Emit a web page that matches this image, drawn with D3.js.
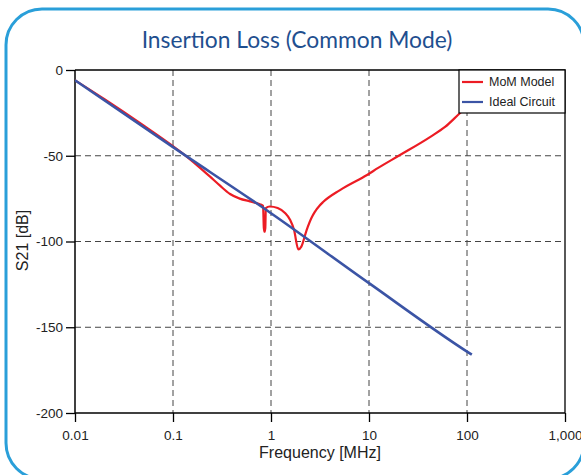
<!DOCTYPE html>
<html>
<head>
<meta charset="utf-8">
<script src="https://cdn.jsdelivr.net/npm/d3@7/dist/d3.min.js"></script>
<style>
  html, body { margin: 0; padding: 0; background: #fff; }
  svg { display: block; }
</style>
</head>
<body>
<svg id="chart" width="581" height="475"></svg>
<script>
// Insertion loss, common mode: S21 vs frequency
const freqTicks = [0.01, 0.1, 1, 10, 100, 1000];
const freqTickLabels = ["0.01", "0.1", "1", "10", "100", "1,000"];
const s21Ticks = [0, -50, -100, -150, -200];
const s21TickLabels = ["0", "-50", "-100", "-150", "-200"];

// Ideal circuit response
const idealFreq = [0.01, 0.1, 1, 10, 100, 112];
const idealS21 = [-6, -45, -83.5, -124.3, -164.2, -166];

// MoM model response
const momFreq = [0.01, 0.02, 0.05, 0.1, 0.132, 0.18, 0.239, 0.3, 0.382, 0.48, 0.61, 0.77,
  0.83, 0.845, 0.86, 0.875, 0.885, 0.97, 1.17, 1.39, 1.57, 1.72, 1.9, 2.04, 2.31, 2.6,
  2.78, 3.14, 3.4, 5.06, 9.55, 12.4, 20.7, 41.9, 59.7, 85, 112];
const momS21 = [-6, -17, -32.3, -44.4, -49.6, -56, -62.2, -67.3, -72.3, -75, -76.6, -78.3,
  -79.2, -92, -94.3, -92, -80.5, -79.6, -80.5, -83.4, -87.5, -93.3, -104.6, -103, -93.3, -86,
  -83, -79, -77, -70, -61.2, -57.1, -49.6, -39.1, -33.2, -25.1, -19];

const seriesNames = ["MoM Model", "Ideal Circuit"];
const seriesColors = ["#ec1c24", "#3b54a5"];

const svg = d3.select("#chart");

// rounded frame
svg.append("rect")
  .attr("x", 6).attr("y", 9)
  .attr("width", 578).attr("height", 470)
  .attr("rx", 36).attr("ry", 36)
  .attr("fill", "#fff")
  .attr("stroke", "#2a9fd9")
  .attr("stroke-width", 3);

svg.append("text")
  .attr("x", 297).attr("y", 48)
  .attr("text-anchor", "middle")
  .attr("font-family", "Lato, 'Open Sans', sans-serif")
  .attr("font-size", 22.8)
  .attr("fill", "#1f4f8f")
  .text("Insertion Loss (Common Mode)");

const pLeft = 75, pRight = 565, pTop = 70, pBottom = 413;

const x = d3.scaleLog().domain([0.01, 1000]).range([pLeft, pRight]);
const y = d3.scaleLinear().domain([-200, 0]).range([pBottom, pTop]);

const font = "'Liberation Sans', Arial, sans-serif";

// grid
const grid = svg.append("g").attr("stroke", "#444").attr("stroke-width", 1)
  .attr("stroke-dasharray", "6,4").attr("fill", "none");
freqTicks.slice(1, -1).forEach(f => {
  grid.append("line").attr("x1", x(f)).attr("x2", x(f)).attr("y1", pTop).attr("y2", pBottom);
});
s21Ticks.slice(1, -1).forEach(v => {
  grid.append("line").attr("x1", pLeft).attr("x2", pRight).attr("y1", y(v)).attr("y2", y(v));
});

// plot border (top and right)
svg.append("path")
  .attr("d", `M${pLeft},${pTop}H${pRight}V${pBottom}`)
  .attr("fill", "none").attr("stroke", "#000").attr("stroke-width", 1.3);

// axes
const xAxis = d3.axisBottom(x).tickValues(freqTicks)
  .tickFormat((d, i) => freqTickLabels[i]).tickSize(9).tickPadding(8);
const yAxis = d3.axisLeft(y).tickValues(s21Ticks)
  .tickFormat((d, i) => s21TickLabels[i]).tickSize(9).tickPadding(3);

const gx = svg.append("g").attr("transform", `translate(0,${pBottom})`).call(xAxis);
const gy = svg.append("g").attr("transform", `translate(${pLeft},0)`).call(yAxis);
[gx, gy].forEach(g => {
  g.select(".domain").attr("stroke", "#000").attr("stroke-width", 1.5);
  g.selectAll(".tick line").attr("stroke", "#000").attr("stroke-width", 1.3);
  g.selectAll(".tick text").attr("font-family", font).attr("font-size", 13.5).attr("fill", "#222");
});
gx.select(".domain").attr("d", `M${pLeft},0H${pRight}`);
gy.select(".domain").attr("d", `M0,${pTop}V${pBottom}`);

svg.append("text")
  .attr("x", (pLeft + pRight) / 2).attr("y", 458)
  .attr("text-anchor", "middle")
  .attr("font-family", font).attr("font-size", 16).attr("fill", "#222")
  .text("Frequency [MHz]");

svg.append("text")
  .attr("transform", `translate(28,${(pTop + pBottom) / 2 - 1}) rotate(-90)`)
  .attr("text-anchor", "middle")
  .attr("font-family", font).attr("font-size", 16).attr("fill", "#222")
  .text("S21 [dB]");

// curves
const line = d3.line().curve(d3.curveMonotoneX).x(d => x(d[0])).y(d => y(d[1]));
svg.append("clipPath").attr("id", "plotClip")
  .append("rect").attr("x", pLeft).attr("y", pTop)
  .attr("width", pRight - pLeft).attr("height", pBottom - pTop);

const momData = momFreq.map((f, i) => [f, momS21[i]]);
const idealData = idealFreq.map((f, i) => [f, idealS21[i]]);

const curves = svg.append("g").attr("clip-path", "url(#plotClip)");
curves.append("path").datum(momData).attr("d", line)
  .attr("fill", "none").attr("stroke", seriesColors[0]).attr("stroke-width", 2.2)
  .attr("stroke-linejoin", "round");
curves.append("path").datum(idealData).attr("d", line)
  .attr("fill", "none").attr("stroke", seriesColors[1]).attr("stroke-width", 2.6)
  .attr("stroke-linejoin", "round");

// legend
const lg = svg.append("g");
lg.append("rect").attr("x", 459).attr("y", pTop).attr("width", pRight - 459).attr("height", 43)
  .attr("fill", "#fff").attr("stroke", "#000").attr("stroke-width", 1.2);
seriesNames.forEach((name, i) => {
  const ly = 82 + i * 20;
  lg.append("line").attr("x1", 462).attr("x2", 483).attr("y1", ly).attr("y2", ly)
    .attr("stroke", seriesColors[i]).attr("stroke-width", 2.2);
  lg.append("text").attr("x", 489).attr("y", ly + 4)
    .attr("font-family", font).attr("font-size", 12.5).attr("fill", "#222")
    .text(name);
});
</script>
</body>
</html>
